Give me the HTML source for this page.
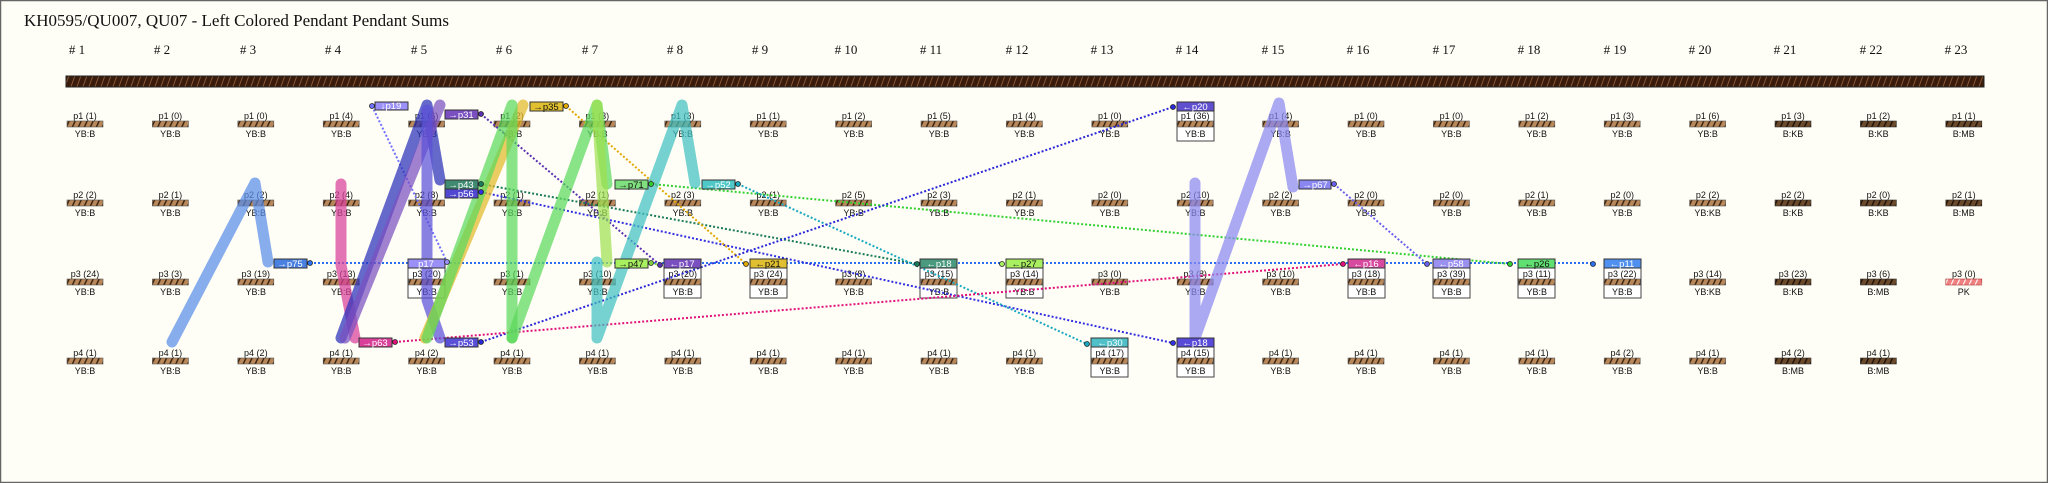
<!DOCTYPE html>
<html><head><meta charset="utf-8"><style>
html,body{margin:0;padding:0;background:#fffef6}
svg{display:block}
.t{font-family:"Liberation Sans",sans-serif;font-size:9px;fill:#111;text-anchor:middle}
.h{font-family:"Liberation Serif",serif;font-size:13px;fill:#111;text-anchor:middle}
.g{font-family:"Liberation Sans",sans-serif;font-size:9.5px;fill:#fff;text-anchor:middle}
.gd{font-family:"Liberation Sans",sans-serif;font-size:9.5px;fill:#111;text-anchor:middle}
.d{fill:none;stroke-width:2;stroke-dasharray:2 2}
.b{fill:none;stroke-width:11;stroke-linecap:round;stroke-linejoin:round;opacity:.72}
</style></head><body>
<svg width="2048" height="483" viewBox="0 0 2048 483" xmlns="http://www.w3.org/2000/svg">
<defs>
<pattern id="hp" width="6" height="6" patternUnits="userSpaceOnUse" patternTransform="skewX(-25)"><rect width="6" height="6" fill="#b8875a"/><rect x="0" width="1.6" height="6" fill="#3a2410"/></pattern>
<pattern id="hk" width="6" height="6" patternUnits="userSpaceOnUse" patternTransform="skewX(-25)"><rect width="6" height="6" fill="#6a4a2a"/><rect x="0" width="1.6" height="6" fill="#221208"/></pattern>
<pattern id="hpk" width="6" height="6" patternUnits="userSpaceOnUse" patternTransform="skewX(-25)"><rect width="6" height="6" fill="#f08080"/><rect x="0" width="1.2" height="6" fill="#fff"/></pattern>
<pattern id="top" width="6" height="12" patternUnits="userSpaceOnUse" patternTransform="skewX(-20)"><rect width="6" height="12" fill="#3a1c0c"/><rect x="0" width="1" height="12" fill="#8a5a3a"/></pattern>
<rect id="b" x="-18" y="-3" width="36" height="6" fill="url(#hp)" stroke="#555" stroke-width=".6"/>
<rect id="bk" x="-18" y="-3" width="36" height="6" fill="url(#hk)" stroke="#333" stroke-width=".6"/>
</defs>
<rect x="0.5" y="0.5" width="2047" height="482" fill="#fffef6" stroke="#666" stroke-width="1.5"/>
<text x="24" y="26" font-family="Liberation Serif,serif" font-size="17" fill="#111">KH0595/QU007, QU07 - Left Colored Pendant Pendant Sums</text>
<g class="h">
<text x="77" y="54"># 1</text><text x="162" y="54"># 2</text><text x="248" y="54"># 3</text><text x="333" y="54"># 4</text><text x="419" y="54"># 5</text><text x="504" y="54"># 6</text><text x="590" y="54"># 7</text><text x="675" y="54"># 8</text><text x="760" y="54"># 9</text><text x="846" y="54"># 10</text><text x="931" y="54"># 11</text><text x="1017" y="54"># 12</text><text x="1102" y="54"># 13</text><text x="1187" y="54"># 14</text><text x="1273" y="54"># 15</text><text x="1358" y="54"># 16</text><text x="1444" y="54"># 17</text><text x="1529" y="54"># 18</text><text x="1615" y="54"># 19</text><text x="1700" y="54"># 20</text><text x="1785" y="54"># 21</text><text x="1871" y="54"># 22</text><text x="1956" y="54"># 23</text>
</g>
<rect x="66" y="76" width="1918" height="11" fill="url(#top)" stroke="#222" stroke-width="1"/>

<!-- boxes -->
<g stroke="#444" stroke-width="1" fill="#fff">
<rect x="408" y="259" width="37" height="39"/><rect x="664" y="259" width="37" height="39"/><rect x="750" y="259" width="37" height="39"/><rect x="920" y="259" width="37" height="39"/><rect x="1006" y="259" width="37" height="39"/><rect x="1348" y="259" width="37" height="39"/><rect x="1433" y="259" width="37" height="39"/><rect x="1518" y="259" width="37" height="39"/><rect x="1604" y="259" width="37" height="39"/>
<rect x="1177" y="102" width="37" height="39"/><rect x="1091" y="338" width="37" height="39"/><rect x="1177" y="338" width="37" height="39"/>
</g>

<!-- nodes -->
<g id="nodes">
<g transform="translate(85,0)"><g transform="translate(0,124)"><text class="t" y="-5">p1 (1)</text><use href="#b"/><text class="t" y="13">YB:B</text></g><g transform="translate(0,203)"><text class="t" y="-5">p2 (2)</text><use href="#b"/><text class="t" y="13">YB:B</text></g><g transform="translate(0,282)"><text class="t" y="-5">p3 (24)</text><use href="#b"/><text class="t" y="13">YB:B</text></g><g transform="translate(0,361)"><text class="t" y="-5">p4 (1)</text><use href="#b"/><text class="t" y="13">YB:B</text></g></g>
<g transform="translate(170.4,0)"><g transform="translate(0,124)"><text class="t" y="-5">p1 (0)</text><use href="#b"/><text class="t" y="13">YB:B</text></g><g transform="translate(0,203)"><text class="t" y="-5">p2 (1)</text><use href="#b"/><text class="t" y="13">YB:B</text></g><g transform="translate(0,282)"><text class="t" y="-5">p3 (3)</text><use href="#b"/><text class="t" y="13">YB:B</text></g><g transform="translate(0,361)"><text class="t" y="-5">p4 (1)</text><use href="#b"/><text class="t" y="13">YB:B</text></g></g>
<g transform="translate(255.8,0)"><g transform="translate(0,124)"><text class="t" y="-5">p1 (0)</text><use href="#b"/><text class="t" y="13">YB:B</text></g><g transform="translate(0,203)"><text class="t" y="-5">p2 (2)</text><use href="#b"/><text class="t" y="13">YB:B</text></g><g transform="translate(0,282)"><text class="t" y="-5">p3 (19)</text><use href="#b"/><text class="t" y="13">YB:B</text></g><g transform="translate(0,361)"><text class="t" y="-5">p4 (2)</text><use href="#b"/><text class="t" y="13">YB:B</text></g></g>
<g transform="translate(341.2,0)"><g transform="translate(0,124)"><text class="t" y="-5">p1 (4)</text><use href="#b"/><text class="t" y="13">YB:B</text></g><g transform="translate(0,203)"><text class="t" y="-5">p2 (4)</text><use href="#b"/><text class="t" y="13">YB:B</text></g><g transform="translate(0,282)"><text class="t" y="-5">p3 (13)</text><use href="#b"/><text class="t" y="13">YB:B</text></g><g transform="translate(0,361)"><text class="t" y="-5">p4 (1)</text><use href="#b"/><text class="t" y="13">YB:B</text></g></g>
<g transform="translate(426.6,0)"><g transform="translate(0,124)"><text class="t" y="-5">p1 (6)</text><use href="#b"/><text class="t" y="13">YB:B</text></g><g transform="translate(0,203)"><text class="t" y="-5">p2 (8)</text><use href="#b"/><text class="t" y="13">YB:B</text></g><g transform="translate(0,282)"><text class="t" y="-5">p3 (20)</text><use href="#b"/><text class="t" y="13">YB:B</text></g><g transform="translate(0,361)"><text class="t" y="-5">p4 (2)</text><use href="#b"/><text class="t" y="13">YB:B</text></g></g>
<g transform="translate(512,0)"><g transform="translate(0,124)"><text class="t" y="-5">p1 (2)</text><use href="#b"/><text class="t" y="13">YB:B</text></g><g transform="translate(0,203)"><text class="t" y="-5">p2 (1)</text><use href="#b"/><text class="t" y="13">YB:B</text></g><g transform="translate(0,282)"><text class="t" y="-5">p3 (1)</text><use href="#b"/><text class="t" y="13">YB:B</text></g><g transform="translate(0,361)"><text class="t" y="-5">p4 (1)</text><use href="#b"/><text class="t" y="13">YB:B</text></g></g>
<g transform="translate(597.4,0)"><g transform="translate(0,124)"><text class="t" y="-5">p1 (3)</text><use href="#b"/><text class="t" y="13">YB:B</text></g><g transform="translate(0,203)"><text class="t" y="-5">p2 (1)</text><use href="#b"/><text class="t" y="13">YB:B</text></g><g transform="translate(0,282)"><text class="t" y="-5">p3 (10)</text><use href="#b"/><text class="t" y="13">YB:B</text></g><g transform="translate(0,361)"><text class="t" y="-5">p4 (1)</text><use href="#b"/><text class="t" y="13">YB:B</text></g></g>
<g transform="translate(682.8,0)"><g transform="translate(0,124)"><text class="t" y="-5">p1 (3)</text><use href="#b"/><text class="t" y="13">YB:B</text></g><g transform="translate(0,203)"><text class="t" y="-5">p2 (3)</text><use href="#b"/><text class="t" y="13">YB:B</text></g><g transform="translate(0,282)"><text class="t" y="-5">p3 (20)</text><use href="#b"/><text class="t" y="13">YB:B</text></g><g transform="translate(0,361)"><text class="t" y="-5">p4 (1)</text><use href="#b"/><text class="t" y="13">YB:B</text></g></g>
<g transform="translate(768.2,0)"><g transform="translate(0,124)"><text class="t" y="-5">p1 (1)</text><use href="#b"/><text class="t" y="13">YB:B</text></g><g transform="translate(0,203)"><text class="t" y="-5">p2 (1)</text><use href="#b"/><text class="t" y="13">YB:B</text></g><g transform="translate(0,282)"><text class="t" y="-5">p3 (24)</text><use href="#b"/><text class="t" y="13">YB:B</text></g><g transform="translate(0,361)"><text class="t" y="-5">p4 (1)</text><use href="#b"/><text class="t" y="13">YB:B</text></g></g>
<g transform="translate(853.6,0)"><g transform="translate(0,124)"><text class="t" y="-5">p1 (2)</text><use href="#b"/><text class="t" y="13">YB:B</text></g><g transform="translate(0,203)"><text class="t" y="-5">p2 (5)</text><use href="#b"/><text class="t" y="13">YB:B</text></g><g transform="translate(0,282)"><text class="t" y="-5">p3 (8)</text><use href="#b"/><text class="t" y="13">YB:B</text></g><g transform="translate(0,361)"><text class="t" y="-5">p4 (1)</text><use href="#b"/><text class="t" y="13">YB:B</text></g></g>
<g transform="translate(939,0)"><g transform="translate(0,124)"><text class="t" y="-5">p1 (5)</text><use href="#b"/><text class="t" y="13">YB:B</text></g><g transform="translate(0,203)"><text class="t" y="-5">p2 (3)</text><use href="#b"/><text class="t" y="13">YB:B</text></g><g transform="translate(0,282)"><text class="t" y="-5">p3 (15)</text><use href="#b"/><text class="t" y="13">YB:B</text></g><g transform="translate(0,361)"><text class="t" y="-5">p4 (1)</text><use href="#b"/><text class="t" y="13">YB:B</text></g></g>
<g transform="translate(1024.4,0)"><g transform="translate(0,124)"><text class="t" y="-5">p1 (4)</text><use href="#b"/><text class="t" y="13">YB:B</text></g><g transform="translate(0,203)"><text class="t" y="-5">p2 (1)</text><use href="#b"/><text class="t" y="13">YB:B</text></g><g transform="translate(0,282)"><text class="t" y="-5">p3 (14)</text><use href="#b"/><text class="t" y="13">YB:B</text></g><g transform="translate(0,361)"><text class="t" y="-5">p4 (1)</text><use href="#b"/><text class="t" y="13">YB:B</text></g></g>
<g transform="translate(1109.8,0)"><g transform="translate(0,124)"><text class="t" y="-5">p1 (0)</text><use href="#b"/><text class="t" y="13">YB:B</text></g><g transform="translate(0,203)"><text class="t" y="-5">p2 (0)</text><use href="#b"/><text class="t" y="13">YB:B</text></g><g transform="translate(0,282)"><text class="t" y="-5">p3 (0)</text><use href="#b"/><text class="t" y="13">YB:B</text></g><g transform="translate(0,361)"><text class="t" y="-5">p4 (17)</text><use href="#b"/><text class="t" y="13">YB:B</text></g></g>
<g transform="translate(1195.2,0)"><g transform="translate(0,124)"><text class="t" y="-5">p1 (36)</text><use href="#b"/><text class="t" y="13">YB:B</text></g><g transform="translate(0,203)"><text class="t" y="-5">p2 (10)</text><use href="#b"/><text class="t" y="13">YB:B</text></g><g transform="translate(0,282)"><text class="t" y="-5">p3 (8)</text><use href="#b"/><text class="t" y="13">YB:B</text></g><g transform="translate(0,361)"><text class="t" y="-5">p4 (15)</text><use href="#b"/><text class="t" y="13">YB:B</text></g></g>
<g transform="translate(1280.6,0)"><g transform="translate(0,124)"><text class="t" y="-5">p1 (4)</text><use href="#b"/><text class="t" y="13">YB:B</text></g><g transform="translate(0,203)"><text class="t" y="-5">p2 (2)</text><use href="#b"/><text class="t" y="13">YB:B</text></g><g transform="translate(0,282)"><text class="t" y="-5">p3 (10)</text><use href="#b"/><text class="t" y="13">YB:B</text></g><g transform="translate(0,361)"><text class="t" y="-5">p4 (1)</text><use href="#b"/><text class="t" y="13">YB:B</text></g></g>
<g transform="translate(1366,0)"><g transform="translate(0,124)"><text class="t" y="-5">p1 (0)</text><use href="#b"/><text class="t" y="13">YB:B</text></g><g transform="translate(0,203)"><text class="t" y="-5">p2 (0)</text><use href="#b"/><text class="t" y="13">YB:B</text></g><g transform="translate(0,282)"><text class="t" y="-5">p3 (18)</text><use href="#b"/><text class="t" y="13">YB:B</text></g><g transform="translate(0,361)"><text class="t" y="-5">p4 (1)</text><use href="#b"/><text class="t" y="13">YB:B</text></g></g>
<g transform="translate(1451.4,0)"><g transform="translate(0,124)"><text class="t" y="-5">p1 (0)</text><use href="#b"/><text class="t" y="13">YB:B</text></g><g transform="translate(0,203)"><text class="t" y="-5">p2 (0)</text><use href="#b"/><text class="t" y="13">YB:B</text></g><g transform="translate(0,282)"><text class="t" y="-5">p3 (39)</text><use href="#b"/><text class="t" y="13">YB:B</text></g><g transform="translate(0,361)"><text class="t" y="-5">p4 (1)</text><use href="#b"/><text class="t" y="13">YB:B</text></g></g>
<g transform="translate(1536.8,0)"><g transform="translate(0,124)"><text class="t" y="-5">p1 (2)</text><use href="#b"/><text class="t" y="13">YB:B</text></g><g transform="translate(0,203)"><text class="t" y="-5">p2 (1)</text><use href="#b"/><text class="t" y="13">YB:B</text></g><g transform="translate(0,282)"><text class="t" y="-5">p3 (11)</text><use href="#b"/><text class="t" y="13">YB:B</text></g><g transform="translate(0,361)"><text class="t" y="-5">p4 (1)</text><use href="#b"/><text class="t" y="13">YB:B</text></g></g>
<g transform="translate(1622.2,0)"><g transform="translate(0,124)"><text class="t" y="-5">p1 (3)</text><use href="#b"/><text class="t" y="13">YB:B</text></g><g transform="translate(0,203)"><text class="t" y="-5">p2 (0)</text><use href="#b"/><text class="t" y="13">YB:B</text></g><g transform="translate(0,282)"><text class="t" y="-5">p3 (22)</text><use href="#b"/><text class="t" y="13">YB:B</text></g><g transform="translate(0,361)"><text class="t" y="-5">p4 (2)</text><use href="#b"/><text class="t" y="13">YB:B</text></g></g>
<g transform="translate(1707.6,0)"><g transform="translate(0,124)"><text class="t" y="-5">p1 (6)</text><use href="#b"/><text class="t" y="13">YB:B</text></g><g transform="translate(0,203)"><text class="t" y="-5">p2 (2)</text><use href="#b"/><text class="t" y="13">YB:KB</text></g><g transform="translate(0,282)"><text class="t" y="-5">p3 (14)</text><use href="#b"/><text class="t" y="13">YB:KB</text></g><g transform="translate(0,361)"><text class="t" y="-5">p4 (1)</text><use href="#b"/><text class="t" y="13">YB:B</text></g></g>
<g transform="translate(1793,0)"><g transform="translate(0,124)"><text class="t" y="-5">p1 (3)</text><use href="#bk"/><text class="t" y="13">B:KB</text></g><g transform="translate(0,203)"><text class="t" y="-5">p2 (2)</text><use href="#bk"/><text class="t" y="13">B:KB</text></g><g transform="translate(0,282)"><text class="t" y="-5">p3 (23)</text><use href="#bk"/><text class="t" y="13">B:KB</text></g><g transform="translate(0,361)"><text class="t" y="-5">p4 (2)</text><use href="#bk"/><text class="t" y="13">B:MB</text></g></g>
<g transform="translate(1878.4,0)"><g transform="translate(0,124)"><text class="t" y="-5">p1 (2)</text><use href="#bk"/><text class="t" y="13">B:KB</text></g><g transform="translate(0,203)"><text class="t" y="-5">p2 (0)</text><use href="#bk"/><text class="t" y="13">B:KB</text></g><g transform="translate(0,282)"><text class="t" y="-5">p3 (6)</text><use href="#bk"/><text class="t" y="13">B:MB</text></g><g transform="translate(0,361)"><text class="t" y="-5">p4 (1)</text><use href="#bk"/><text class="t" y="13">B:MB</text></g></g>
<g transform="translate(1963.8,0)"><g transform="translate(0,124)"><text class="t" y="-5">p1 (1)</text><use href="#bk"/><text class="t" y="13">B:MB</text></g><g transform="translate(0,203)"><text class="t" y="-5">p2 (1)</text><use href="#bk"/><text class="t" y="13">B:MB</text></g><g transform="translate(0,282)"><text class="t" y="-5">p3 (0)</text><rect x="-18" y="-3" width="36" height="6" fill="url(#hpk)" stroke="#a33" stroke-width=".6"/><text class="t" y="13">PK</text></g></g>
</g>

<!-- dotted connectors -->
<line class="d" x1="310" y1="263" x2="1593" y2="263" stroke="#2a6ff0"/>
<line class="d" x1="372" y1="106" x2="447" y2="262" stroke="#7070ff"/>
<line class="d" x1="481" y1="114" x2="660" y2="265" stroke="#5a30b0"/>
<line class="d" x1="481" y1="184" x2="917" y2="264" stroke="#1a7a5a"/>
<line class="d" x1="481" y1="192" x2="1173" y2="343" stroke="#3030e0"/>
<line class="d" x1="566" y1="106" x2="746" y2="264" stroke="#e0a800"/>
<line class="d" x1="651" y1="184" x2="1510" y2="264" stroke="#30d030"/>
<line class="d" x1="651" y1="263" x2="660" y2="265" stroke="#80d040"/>
<line class="d" x1="738" y1="184" x2="1087" y2="344" stroke="#18a8c0"/>
<line class="d" x1="481" y1="342" x2="1173" y2="107" stroke="#2828d8"/>
<line class="d" x1="395" y1="342" x2="1343" y2="264" stroke="#e0107a"/>
<line class="d" x1="1334" y1="184" x2="1427" y2="264" stroke="#6a60f0"/>

<!-- bands -->
<polyline class="b" points="172,342 255,183 268,262" stroke="#5a8ee8"/>
<polyline class="b" points="341,184 341,265 355,338" stroke="#d8409a"/>
<polyline class="b" points="341,338 427,105 440,180" stroke="#2a30b8"/>
<polyline class="b" points="345,338 440,105" stroke="#7a50c0"/>
<polyline class="b" points="427,110 427,300 440,338" stroke="#5a50d8"/>
<polyline class="b" points="425,338 523,105" stroke="#e0b828"/>
<polyline class="b" points="427,338 512,105 512,338" stroke="#5cd85c"/>
<polyline class="b" points="512,338 597,105 607,184" stroke="#5cd85c"/>
<polyline class="b" points="597,105 607,262" stroke="#9ee050"/>
<polyline class="b" points="597,262 597,338 682,105 695,183" stroke="#40c0c0"/>
<polyline class="b" points="1195,183 1195,338 1279,103 1293,187" stroke="#8a88f0"/>

<!-- tags -->
<g stroke="#333" stroke-width="1">
<rect x="274" y="259" width="33" height="9" fill="#4a80e0"/>
<rect x="359" y="338" width="33" height="9" fill="#d8409a"/>
<rect x="375" y="102" width="33" height="8" fill="#9a90f8"/>
<rect x="445" y="110" width="33" height="9" fill="#7a4fc0"/>
<rect x="445" y="180" width="33" height="9" fill="#3f8a70"/>
<rect x="445" y="189" width="33" height="9" fill="#5048d0"/>
<rect x="445" y="338" width="33" height="9" fill="#5a50d8"/>
<rect x="530" y="102" width="33" height="9" fill="#e0c030"/>
<rect x="615" y="180" width="33" height="9" fill="#80e080"/>
<rect x="615" y="259" width="33" height="9" fill="#a8f060"/>
<rect x="702" y="180" width="33" height="9" fill="#50c8c8"/>
<rect x="1299" y="180" width="32" height="9" fill="#8a88f0"/>
<rect x="408" y="259" width="37" height="9" fill="#9a90f8"/>
<rect x="664" y="259" width="37" height="9" fill="#7a50c0"/>
<rect x="750" y="259" width="37" height="9" fill="#e0c030"/>
<rect x="920" y="259" width="37" height="9" fill="#4a9a80"/>
<rect x="1006" y="259" width="37" height="9" fill="#a8f060"/>
<rect x="1177" y="102" width="37" height="9" fill="#6050d0"/>
<rect x="1091" y="338" width="37" height="9" fill="#50c0c8"/>
<rect x="1177" y="338" width="37" height="9" fill="#5a4ad8"/>
<rect x="1348" y="259" width="37" height="9" fill="#d84aa0"/>
<rect x="1433" y="259" width="37" height="9" fill="#9a90f0"/>
<rect x="1518" y="259" width="37" height="9" fill="#60e070"/>
<rect x="1604" y="259" width="37" height="9" fill="#5090f0"/>
</g>
<g>
<text class="g" x="290" y="267">→p75</text>
<text class="g" x="375" y="346">→p63</text>
<text class="g" x="391" y="109">↓p19</text>
<text class="g" x="461" y="118">→p31</text>
<text class="g" x="461" y="188">→p43</text>
<text class="g" x="461" y="197">→p56</text>
<text class="g" x="461" y="346">→p53</text>
<text class="gd" x="546" y="110">→p35</text>
<text class="gd" x="631" y="188">→p71</text>
<text class="gd" x="631" y="267">→p47</text>
<text class="g" x="718" y="188">→p52</text>
<text class="g" x="1315" y="188">→p67</text>
<text class="g" x="426" y="267">p17</text>
<text class="g" x="682" y="267">←p17</text>
<text class="gd" x="768" y="267">←p21</text>
<text class="g" x="939" y="267">←p18</text>
<text class="gd" x="1024" y="267">←p27</text>
<text class="g" x="1195" y="110">←p20</text>
<text class="g" x="1110" y="346">←p30</text>
<text class="g" x="1195" y="346">←p18</text>
<text class="g" x="1366" y="267">←p16</text>
<text class="g" x="1451" y="267">←p58</text>
<text class="gd" x="1537" y="267">←p26</text>
<text class="g" x="1622" y="267">←p11</text>
</g>
<g stroke="#222" stroke-width=".8">
<circle cx="310" cy="263" r="2.5" fill="#2a6ff0"/><circle cx="395" cy="342" r="2.5" fill="#e0107a"/><circle cx="372" cy="106" r="2.5" fill="#7070ff"/><circle cx="481" cy="114" r="2.5" fill="#5a30b0"/><circle cx="481" cy="184" r="2.5" fill="#1a7a5a"/><circle cx="481" cy="192" r="2.5" fill="#3030e0"/><circle cx="481" cy="342" r="2.5" fill="#2828d8"/><circle cx="566" cy="106" r="2.5" fill="#e0a800"/><circle cx="651" cy="184" r="2.5" fill="#30d030"/><circle cx="651" cy="263" r="2.5" fill="#80d040"/><circle cx="738" cy="184" r="2.5" fill="#18a8c0"/><circle cx="1334" cy="184" r="2.5" fill="#6a60f0"/><circle cx="447" cy="262" r="2.5" fill="#9a90f8"/><circle cx="660" cy="265" r="2.5" fill="#5a30b0"/><circle cx="746" cy="264" r="2.5" fill="#e0a800"/><circle cx="917" cy="264" r="2.5" fill="#1a7a5a"/><circle cx="1002" cy="264" r="2.5" fill="#a8f060"/><circle cx="1173" cy="107" r="2.5" fill="#2828d8"/><circle cx="1087" cy="344" r="2.5" fill="#18a8c0"/><circle cx="1173" cy="343" r="2.5" fill="#3030e0"/><circle cx="1343" cy="264" r="2.5" fill="#e0107a"/><circle cx="1427" cy="264" r="2.5" fill="#6a60f0"/><circle cx="1510" cy="264" r="2.5" fill="#30d030"/><circle cx="1593" cy="264" r="2.5" fill="#2a6ff0"/>
</g>
</svg>
</body></html>
